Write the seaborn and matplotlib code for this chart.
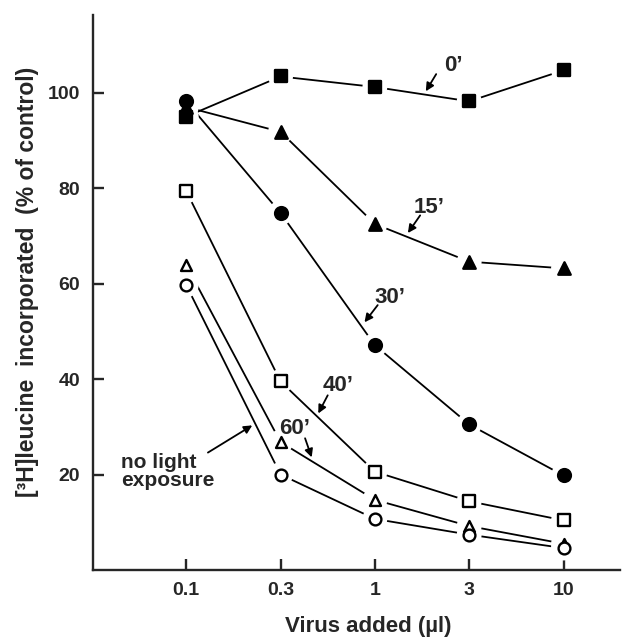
import numpy as np
import pandas as pd
import matplotlib
matplotlib.use("Agg")
import matplotlib.pyplot as plt
import seaborn as sns

# ---- data ----
doses = ["0.1", "0.3", "1", "3", "10"]
t0 = [95.0, 103.4, 101.2, 98.2, 104.7]
t15 = [97.0, 91.8, 72.5, 64.6, 63.2]
t30 = [98.2, 74.8, 47.1, 30.5, 19.8]
t40 = [79.4, 39.5, 20.6, 14.4, 10.4]
t60 = [63.9, 26.8, 14.7, 9.2, 5.5]
no_light = [59.7, 20.0, 10.7, 7.4, 4.6]
yticks = [20, 40, 60, 80, 100]

series = [
    ("0'", t0, "s", "black", 80),
    ("15'", t15, "^", "black", 80),
    ("30'", t30, "o", "black", 85),
    ("40'", t40, "s", "white", 64),
    ("60'", t60, "^", "white", 62),
    ("no light", no_light, "o", "white", 72),
]

sns.set_style("ticks")
plt.rcParams["font.family"] = ["Liberation Sans", "DejaVu Sans"]
plt.rcParams["font.weight"] = "bold"

fig = plt.figure(figsize=(6.36, 6.38), dpi=100)
ax = fig.add_axes([0.146, 0.1066, 0.829, 0.87])

pos = np.arange(len(doses))
frames = []
for name, vals, mk, fc, s in series:
    frames.append(pd.DataFrame({"x": pos, "y": vals, "series": name}))
df = pd.concat(frames, ignore_index=True)

# lines
for name, vals, mk, fc, s in series:
    d = df[df.series == name]
    sns.lineplot(data=d, x="x", y="y", ax=ax, color="black", lw=1.3,
                 sort=False, estimator=None)
for ln in ax.lines:
    ln.set_zorder(1)

# white halos leave small gaps between lines and markers
ax.scatter(df["x"], df["y"], marker="o", s=320, c="white",
           edgecolors="none", zorder=2.5)

# markers
n1 = len(ax.collections)
for name, vals, mk, fc, s in series:
    d = df[df.series == name]
    sns.scatterplot(data=d, x="x", y="y", ax=ax, marker=mk, s=s,
                    facecolor=fc, edgecolor="black", linewidth=1.7,
                    legend=False)
for c in ax.collections[n1:]:
    c.set_zorder(3)

ax.set_xlim(-0.99, 4.6)
ax.set_ylim(0, 116.3)
ax.set_xticks(pos)
ax.set_xticklabels(doses)
ax.set_yticks(yticks)
ax.set_yticklabels([str(v) for v in yticks])
sns.despine(ax=ax)
for sp in ["left", "bottom"]:
    ax.spines[sp].set_linewidth(1.7)
ax.tick_params(direction="in", length=8, width=1.7, labelsize=14, pad=9)
for lab in ax.get_xticklabels() + ax.get_yticklabels():
    lab.set_fontweight("bold")

ax.set_xlabel("Virus added (\u00b5l)", fontsize=16, fontweight="bold")
ax.xaxis.set_label_coords(0.522, -0.082)
ax.set_ylabel("[\u00b3H]leucine  incorporated  (% of control)",
              fontsize=16.5, fontweight="bold")
ax.yaxis.set_label_coords(-0.102, 0.519)

arrow = dict(arrowstyle="-|>", color="black", lw=1.3, mutation_scale=12,
             shrinkA=0, shrinkB=0)
notes = [
    ("0\u2019", (2.83, 105.8), (2.65, 103.9), (2.54, 100.3)),
    ("15\u2019", (2.58, 76.0), (2.48, 74.3), (2.35, 70.6)),
    ("30\u2019", (2.16, 57.0), (2.03, 55.5), (1.89, 51.9)),
    ("40\u2019", (1.61, 38.7), (1.50, 36.6), (1.40, 32.8)),
    ("60\u2019", (1.15, 29.7), (1.26, 27.6), (1.33, 23.6)),
]
for txt, tp, tail, head in notes:
    ax.text(tp[0], tp[1], txt, fontsize=16, fontweight="bold",
            ha="center", va="center", zorder=4)
    ax.annotate("", xy=head, xytext=tail, arrowprops=arrow, zorder=4)
ax.text(-0.69, 20.6, "no light\nexposure", fontsize=15, fontweight="bold",
        ha="left", va="center", linespacing=0.9, zorder=4)
ax.annotate("", xy=(0.70, 30.3), xytext=(0.23, 24.6), arrowprops=arrow,
            zorder=4)

fig.savefig("out.png", dpi=100)
